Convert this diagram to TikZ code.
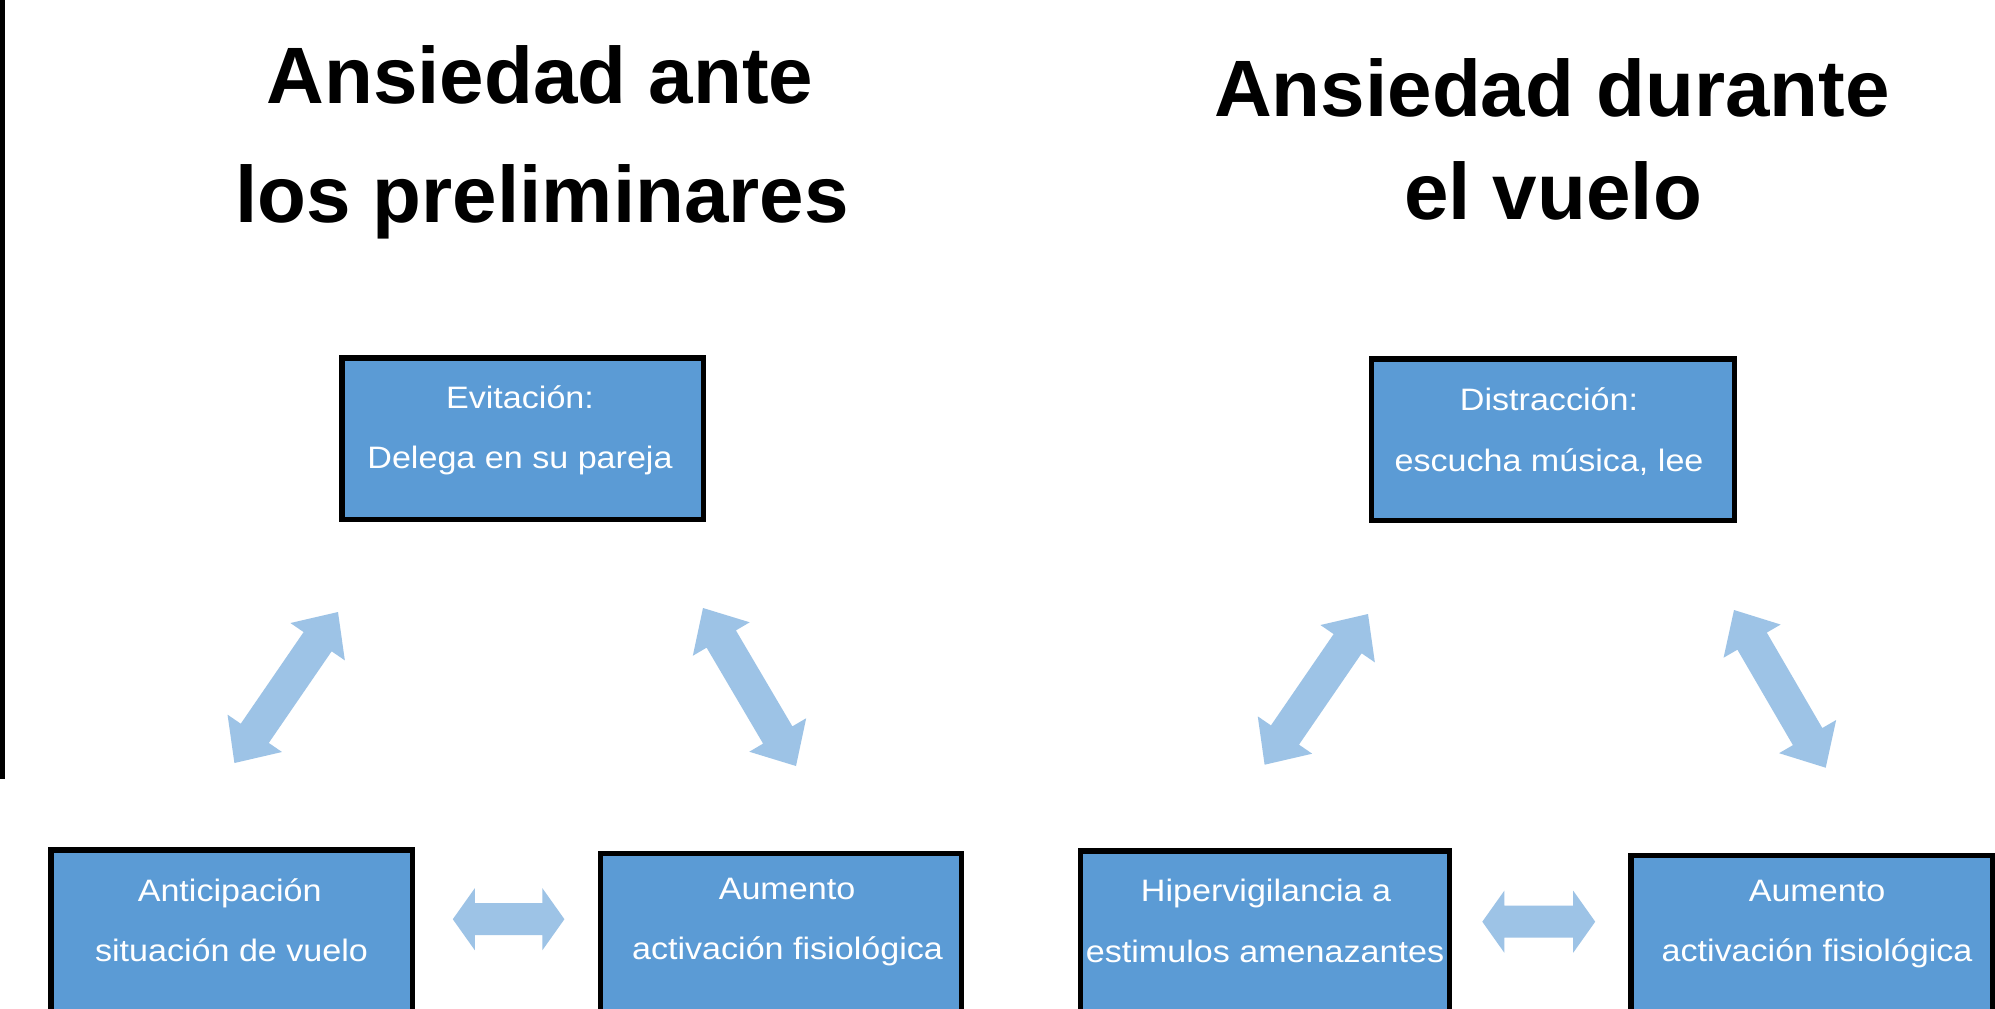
\documentclass[tikz,border=0pt]{standalone}
\usepackage{fontspec}
\setmainfont{Liberation Sans}
\newfontfamily\boxfont[FakeStretch=1.1]{Liberation Sans}
\usetikzlibrary{calc}
\definecolor{boxblue}{HTML}{5B9BD5}
\definecolor{arrowblue}{HTML}{9DC3E6}
% #1 start tip, #2 end tip, #3 head length, #4 head half width, #5 shaft half width
\newcommand\blockarrow[5]{%
  \coordinate (ba1) at ($(#1)!#3!(#2)$);
  \coordinate (ba2) at ($(#2)!#3!(#1)$);
  \fill[arrowfill] (#1) -- ($(ba1)!#4!90:(#2)$) -- ($(ba1)!#5!90:(#2)$)
    -- ($(ba2)!#5!-90:(#1)$) -- ($(ba2)!#4!-90:(#1)$) -- (#2)
    -- ($(ba2)!#4!90:(#1)$) -- ($(ba2)!#5!90:(#1)$)
    -- ($(ba1)!#5!-90:(#2)$) -- ($(ba1)!#4!-90:(#2)$) -- cycle;
}
\begin{document}
\begin{tikzpicture}[x=0.75pt,y=-0.75pt,
  box/.style={draw=black, fill=boxblue, line width=4.1pt, inner sep=0pt,
    minimum height=121.1pt},
  btext/.style={text=white, font=\boxfont\fontsize{23.25pt}{28pt}\selectfont,
    inner sep=0pt, anchor=base},
  title/.style={text=black, font=\bfseries\fontsize{60pt}{72pt}\selectfont,
    inner sep=0pt, anchor=base},
  arrowfill/.style={fill=arrowblue}]
\useasboundingbox (0,0) rectangle (1995,1008);
\clip (0,0) rectangle (1995,1008);
\fill[white] (0,0) rectangle (1995,1008);
% left bar
\fill[black] (0,0) rectangle (5,779);
% titles
\node[title] (tl1) at (540,103) {Ansiedad ante};
\node[title] (tl2) at (542,222.7) {los preliminares};
\node[title] (tr1) at (1552,116) {Ansiedad durante};
\node[title] (tr2) at (1553,219) {el vuelo};
% boxes
\node[box, minimum width=271.1pt] (evit) at (522.5,438.5) {};
\node[box, minimum width=272pt] (dist) at (1553,439.9) {};
\node[box, minimum width=271.1pt] (antic) at (231.5,930.5) {};
\node[box, minimum width=270.4pt] (aumL) at (781,934.2) {};
\node[box, minimum width=276.4pt] (hiper) at (1265,931.5) {};
\node[box, minimum width=271.1pt] (aumR) at (1811.5,936.2) {};
% box texts
\node[btext] (evit1) at (520,408) {Evitación:};
\node[btext] (evit2) at (520,468) {Delega en su pareja};
\node[btext] (dist1) at (1549,410) {Distracción:};
\node[btext] (dist2) at (1549,471.7) {escucha música, lee};
\node[btext] (antic1) at (229.7,901.7) {Anticipación};
\node[btext] (antic2) at (231.5,961.7) {situación de vuelo};
\node[btext] (aumL1) at (787,899) {Aumento};
\node[btext] (aumL2) at (787.5,959.3) {activación fisiológica};
\node[btext] (hiper1) at (1266,901.7) {Hipervigilancia a};
\node[btext] (hiper2) at (1265,962.7) {estimulos amenazantes};
\node[btext] (aumR1) at (1817,901) {Aumento};
\node[btext] (aumR2) at (1817,961.7) {activación fisiológica};
% arrows
\coordinate (a1s) at (234.4,763);   \coordinate (a1e) at (338,612);
\coordinate (a2s) at (703,608);     \coordinate (a2e) at (796,766);
\coordinate (a3s) at (452.8,919.2); \coordinate (a3e) at (564.4,919.2);
\coordinate (a4s) at (1264.6,764.7);\coordinate (a4e) at (1368,614);
\coordinate (a5s) at (1734,610);    \coordinate (a5e) at (1825.7,767.7);
\coordinate (a6s) at (1482.3,921.7);\coordinate (a6e) at (1595.2,921.7);
\blockarrow{a1s}{a1e}{27pt}{24.75pt}{12.75pt}
\blockarrow{a2s}{a2e}{27pt}{24.75pt}{12.75pt}
\blockarrow{a3s}{a3e}{16.5pt}{23.25pt}{12pt}
\blockarrow{a4s}{a4e}{27pt}{24.75pt}{12.75pt}
\blockarrow{a5s}{a5e}{27pt}{24.75pt}{12.75pt}
\blockarrow{a6s}{a6e}{16.5pt}{23.25pt}{12pt}
\end{tikzpicture}
\end{document}
